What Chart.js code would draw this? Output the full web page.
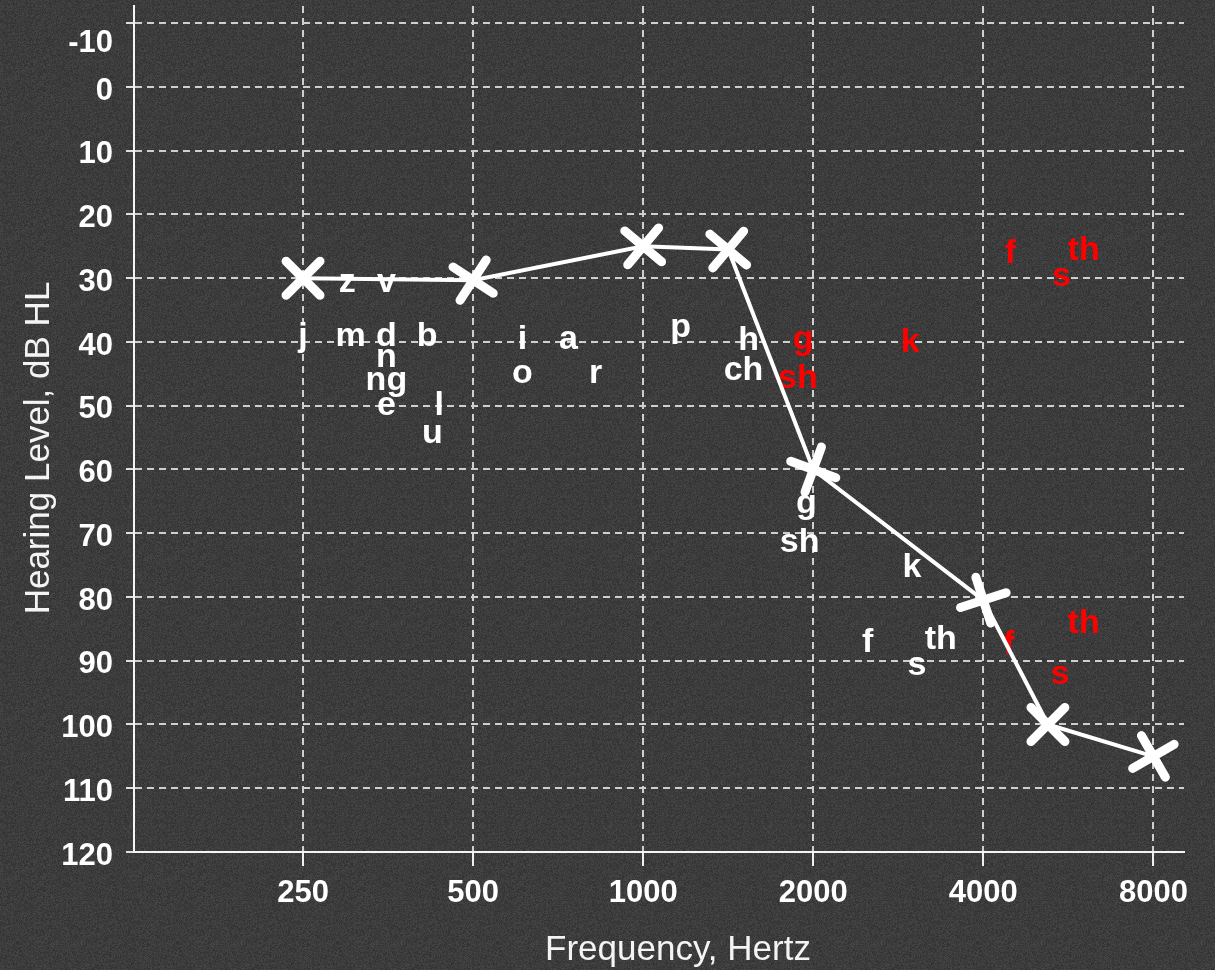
<!DOCTYPE html>
<html>
<head>
<meta charset="utf-8">
<script src="https://cdn.jsdelivr.net/npm/chart.js@4.4.1/dist/chart.umd.min.js"></script>
<style>
  html, body { margin: 0; padding: 0; }
  body { width: 1215px; height: 970px; background-color: #3a3a3a; overflow: hidden; }
  #wrap { position: relative; width: 1215px; height: 970px; }
</style>
</head>
<body>
<div id="wrap"><canvas id="audiogram"></canvas></div>
<script>
// x axis is in octaves: 250 Hz sits at 0, 500 at 1, ...
var freqLabels = ['250', '500', '1000', '2000', '4000', '8000'];
var dbTicks = [-10, 0, 10, 20, 30, 40, 50, 60, 70, 80, 90, 100, 110, 120];

// hearing thresholds (the X marks)
var thresholdPos = [0, 1, 2, 2.5, 3, 4, 4.38, 5];
var thresholdDb  = [30, 30.3, 25, 25.5, 60, 80.5, 100, 105];
var markerTilt   = [45, 33, 40, 40, 20, -18, 45, -30];

// speech sounds, white
var whiteText = ['z', 'v', 'j', 'm', 'd', 'b', 'n', 'ng', 'e', 'l', 'u', 'i', 'a', 'o', 'r',
                 'p', 'h', 'ch', 'g', 'sh', 'k', 'f', 's', 'th'];
var whitePos  = [0.26, 0.49, 0, 0.28, 0.49, 0.73, 0.49, 0.49, 0.49, 0.8, 0.76, 1.29, 1.56, 1.29, 1.72,
                 2.22, 2.62, 2.59, 2.96, 2.92, 3.58, 3.32, 3.61, 3.75];
var whiteDb   = [32.1, 32.1, 40.7, 40.7, 40.7, 40.7, 43.9, 47.5, 51.4, 51.4, 55.8, 41.1, 41.1, 46.4, 46.4,
                 39.2, 41.2, 45.9, 66.8, 73.0, 76.8, 88.7, 92.2, 88.2];

// speech sounds, red
var redText = ['g', 'sh', 'k', 'f', 's', 'th', 'f', 's', 'th'];
var redPos  = [2.94, 2.91, 3.57, 4.16, 4.46, 4.59, 4.15, 4.45, 4.59];
var redDb   = [41.1, 47.2, 41.5, 27.6, 31.2, 27.1, 89.0, 93.6, 85.7];

// grainy backdrop
(function () {
  var c = document.createElement('canvas');
  c.width = 160; c.height = 160;
  var g = c.getContext('2d');
  var img = g.createImageData(160, 160);
  var seed = 12345;
  for (var i = 0; i < img.data.length; i += 4) {
    seed = (seed * 1103515245 + 12345) & 0x7fffffff;
    var v = 50 + (seed % 22);
    img.data[i] = v; img.data[i + 1] = v; img.data[i + 2] = v; img.data[i + 3] = 255;
  }
  g.putImageData(img, 0, 0);
  document.body.style.backgroundImage = 'url(' + c.toDataURL() + ')';
})();

var FAMILY = '"Liberation Sans", Arial, sans-serif';
var TICK_FONT = { family: FAMILY, size: 31, weight: 'bold' };

var soundLabels = {
  id: 'soundLabels',
  beforeDatasetsDraw: function (chart) {
    var ctx = chart.ctx, xs = chart.scales.x, ys = chart.scales.y;
    ctx.save();
    ctx.font = 'bold 34px ' + FAMILY;
    ctx.textAlign = 'center';
    ctx.textBaseline = 'alphabetic';
    ctx.fillStyle = '#ffffff';
    whiteText.forEach(function (t, i) {
      ctx.fillText(t, xs.getPixelForValue(whitePos[i]), ys.getPixelForValue(whiteDb[i]));
    });
    ctx.fillStyle = '#ff0000';
    redText.forEach(function (t, i) {
      ctx.fillText(t, xs.getPixelForValue(redPos[i]), ys.getPixelForValue(redDb[i]));
    });
    // the -10 label sits lower than its grid line in the original
    ctx.fillStyle = '#ffffff';
    ctx.font = 'bold 31px ' + FAMILY;
    ctx.textAlign = 'right';
    ctx.textBaseline = 'middle';
    ctx.fillText('-10', ys.right - 8 - 13, ys.getPixelForValue(-10) + 20);

    // axis titles, placed as in the original (a little off centre)
    ctx.fillStyle = '#f4f4f4';
    ctx.font = '35px ' + FAMILY;
    ctx.textAlign = 'center';
    ctx.textBaseline = 'alphabetic';
    ctx.fillText('Frequency, Hertz', 678, 960);
    ctx.translate(49, 448);
    ctx.rotate(-Math.PI / 2);
    ctx.fillText('Hearing Level, dB HL', 0, 0);
    ctx.restore();
    ctx.lineCap = 'round';
  },
  afterDatasetsDraw: function (chart) {
    chart.ctx.lineCap = 'butt';
  }
};

new Chart(document.getElementById('audiogram'), {
  type: 'line',
  data: {
    datasets: [{
      data: thresholdPos.map(function (x, i) { return { x: x, y: thresholdDb[i] }; }),
      borderColor: '#ffffff',
      borderWidth: 4,
      pointStyle: 'cross',
      pointRotation: markerTilt,
      pointRadius: 24,
      pointHoverRadius: 24,
      pointBorderWidth: 9,
      pointBorderColor: '#ffffff',
      pointBackgroundColor: '#ffffff',
      clip: false
    }]
  },
  plugins: [soundLabels],
  options: {
    responsive: true,
    maintainAspectRatio: false,
    animation: false,
    events: [],
    layout: { autoPadding: false, padding: { top: 6, right: 31, left: 0, bottom: 0 } },
    plugins: { legend: { display: false }, tooltip: { enabled: false } },
    scales: {
      x: {
        type: 'linear',
        min: -0.994,
        max: 5.18,
        afterBuildTicks: function (scale) {
          scale.ticks = freqLabels.map(function (f, i) { return { value: i }; });
        },
        afterFit: function (scale) {
          scale.height = 118;
          scale.paddingLeft = 0;
          scale.paddingRight = 0;
        },
        ticks: {
          color: '#ffffff',
          font: TICK_FONT,
          padding: 9,
          maxRotation: 0,
          autoSkip: false,
          callback: function (v) { return freqLabels[v]; }
        },
        grid: {
          color: '#cfcfcf',
          lineWidth: 2,
          tickLength: 14,
          tickColor: '#f0f0f0',
          tickWidth: 2
        },
        border: { display: true, color: '#f4f4f4', width: 2, dash: [7, 5] }
      },
      y: {
        type: 'linear',
        reverse: true,
        min: -12.7,
        max: 120,
        afterBuildTicks: function (scale) {
          scale.ticks = dbTicks.map(function (v) { return { value: v }; });
        },
        afterFit: function (scale) {
          scale.width = 134;
          scale.paddingTop = 0;
          scale.paddingBottom = 0;
        },
        ticks: {
          color: '#ffffff',
          font: TICK_FONT,
          padding: 13,
          labelOffset: 4,
          autoSkip: false,
          callback: function (v) { return v === -10 ? '' : v; }
        },
        grid: {
          color: '#cfcfcf',
          lineWidth: 2,
          tickLength: 8,
          tickColor: '#e0e0e0',
          tickWidth: 2
        },
        border: { display: true, color: '#f4f4f4', width: 2, dash: [7, 5] }
      }
    }
  }
});
</script>
</body>
</html>
